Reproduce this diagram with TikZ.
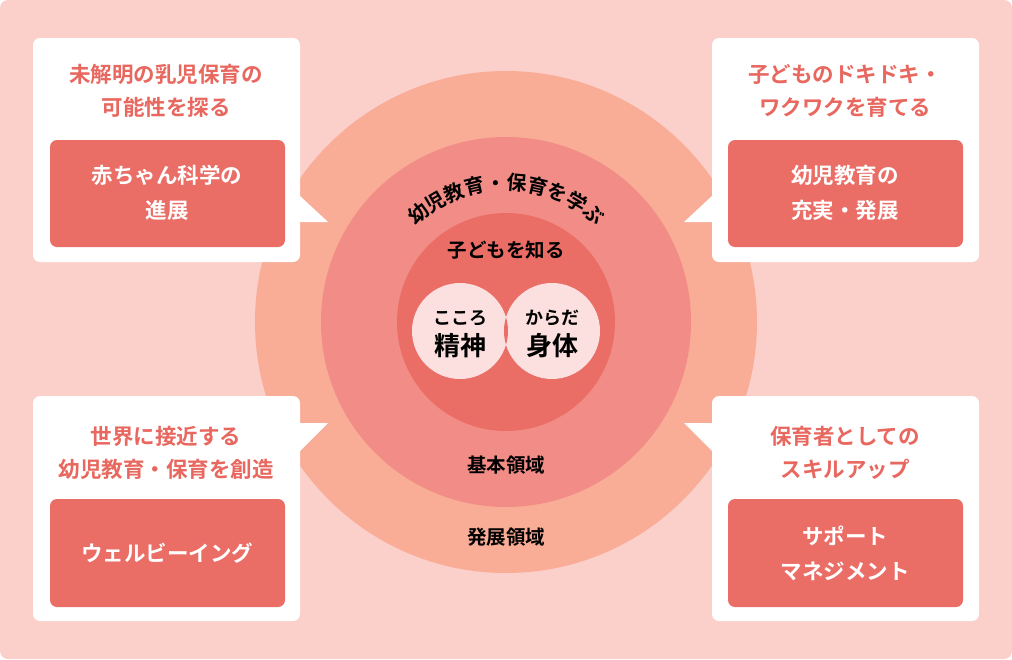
\documentclass[tikz,border=0pt]{standalone}
\usepackage{fontspec}
\setmainfont{Noto Sans CJK JP}[BoldFont={* Bold}]
\usetikzlibrary{decorations.text}
\definecolor{bg}{HTML}{FBCFCA}
\definecolor{outer}{HTML}{F9AC96}
\definecolor{mid}{HTML}{F18D86}
\definecolor{inn}{HTML}{EA6D66}
\definecolor{lite}{HTML}{FCE0DF}
\definecolor{ttl}{HTML}{E8675F}
\begin{document}
\begin{tikzpicture}[x=1pt,y=-1pt,
  card/.style={fill=white,rounded corners=7pt},
  rbox/.style={fill=inn,rounded corners=7pt},
  ttl/.style={text=ttl,font=\bfseries\fontsize{21.5}{33}\selectfont,align=center},
  btxt/.style={text=white,font=\bfseries\fontsize{21.5}{35}\selectfont,align=center},
  lbl/.style={font=\bfseries\fontsize{19.5}{22}\selectfont}]
\useasboundingbox (0,0) rectangle (1012,659);
\fill[bg,rounded corners=8pt] (0,0) rectangle (1012,659);
\coordinate (c) at (506,322);
\fill[outer] (c) circle (251);
\fill[mid] (c) circle (185);
\fill[inn] (c) circle (109);
\node[circle,fill=lite,minimum size=96pt,inner sep=0] (kl) at (460,331) {};
\node[circle,fill=lite,minimum size=96pt,inner sep=0] (kr) at (552,331) {};
\begin{scope}
\clip (460,331) circle (48);
\fill[inn] (552,331) circle (48);
\end{scope}
\node[font=\bfseries\fontsize{18}{20}\selectfont] (s1) at (460,318) {こころ};
\node[font=\bfseries\fontsize{26}{28}\selectfont] (s2) at (460,346) {精神};
\node[font=\bfseries\fontsize{18}{20}\selectfont] (s3) at (552,318) {からだ};
\node[font=\bfseries\fontsize{26}{28}\selectfont] (s4) at (552,346) {身体};
\node[lbl] (k1) at (506,250) {子どもを知る};
\node[lbl] (k2) at (506,465) {基本領域};
\node[lbl] (k3) at (506,537) {発展領域};
\begin{scope}[y=1pt]
\path[decorate,decoration={text along path,text align=center,
  text={|\bfseries\fontsize{20}{22}\selectfont|幼児教育・保育を学ぶ}}]
  (506,-322) ++(155:132) arc[start angle=155,end angle=25,radius=132];
\end{scope}
% cards
\fill[card] (33,38) rectangle (300,262);
\fill[white] (299,195) -- (328,222) -- (299,222) -- cycle;
\fill[rbox] (50,140) rectangle (285,247);
\node[ttl] (t1) at (166,91) {未解明の乳児保育の\\可能性を探る};
\node[btxt] (b1) at (167,193) {赤ちゃん科学の\\進展};
\fill[card] (712,38) rectangle (979,262);
\fill[white] (713,195) -- (684,222) -- (713,222) -- cycle;
\fill[rbox] (728,140) rectangle (963,247);
\node[ttl] (t2) at (845,91) {子どものドキドキ・\\ワクワクを育てる};
\node[btxt] (b2) at (845,193) {幼児教育の\\充実・発展};
\fill[card] (33,396) rectangle (300,621);
\fill[white] (299,423) -- (328,423) -- (299,452) -- cycle;
\fill[rbox] (50,499) rectangle (285,607);
\node[ttl] (t3) at (166,453) {世界に接近する\\幼児教育・保育を創造};
\node[btxt] (b3) at (167,553) {ウェルビーイング};
\fill[card] (712,396) rectangle (979,621);
\fill[white] (713,423) -- (684,423) -- (713,452) -- cycle;
\fill[rbox] (728,499) rectangle (963,607);
\node[ttl] (t4) at (845,453) {保育者としての\\スキルアップ};
\node[btxt] (b4) at (845,553) {サポート\\マネジメント};
\end{tikzpicture}
\end{document}
